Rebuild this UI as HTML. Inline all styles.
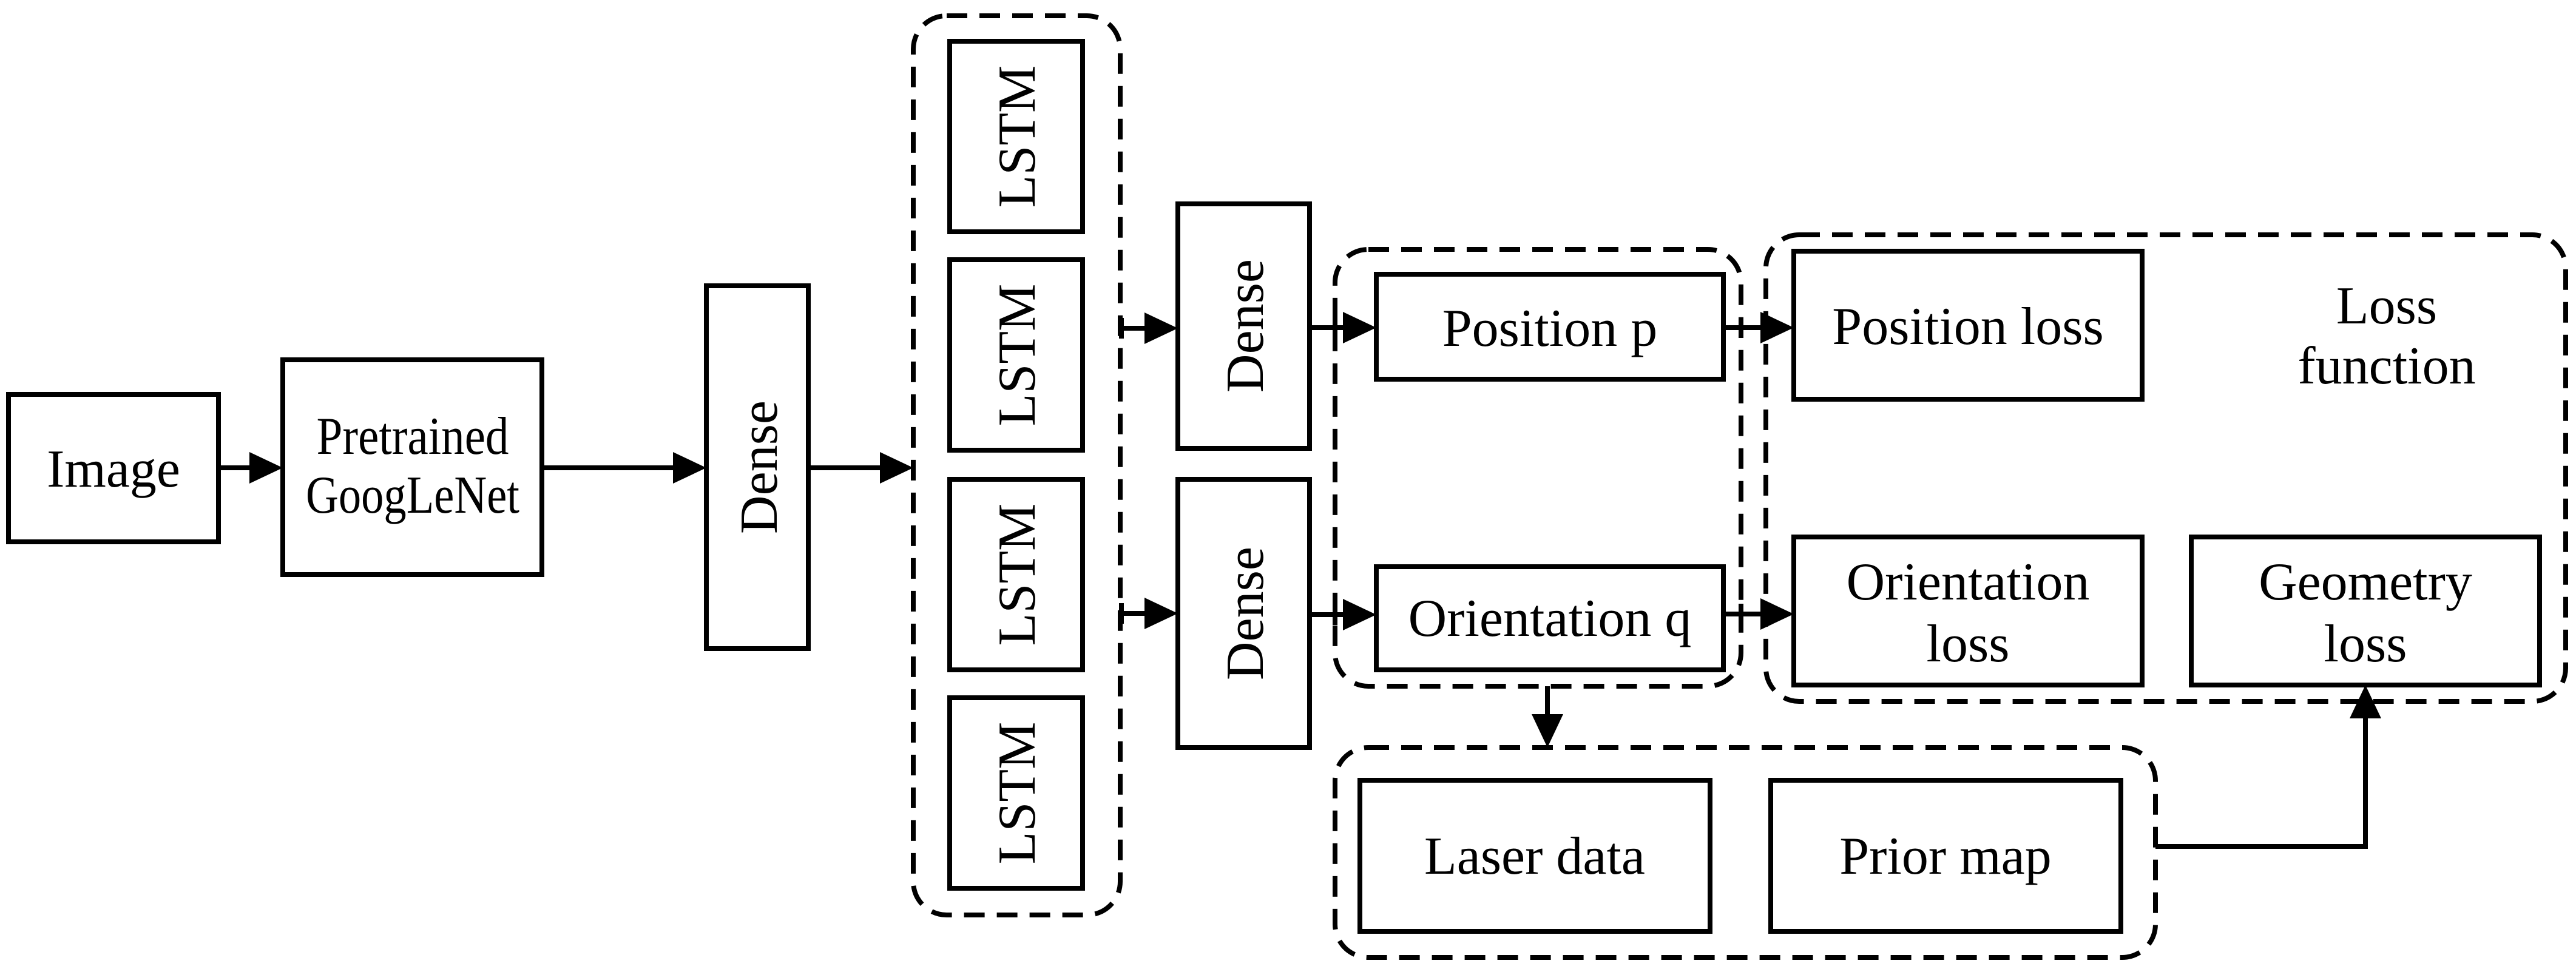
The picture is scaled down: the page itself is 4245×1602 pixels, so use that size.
<!DOCTYPE html>
<html><head><meta charset="utf-8"><style>
html,body{margin:0;padding:0;background:#fff;}
svg{display:block;}
text{font-family:"Liberation Serif",serif;font-size:88px;fill:#000;}
</style></head><body>
<svg width="4245" height="1602" viewBox="0 0 4245 1602" xmlns="http://www.w3.org/2000/svg">
<g fill="none" stroke="#000" stroke-width="8">
<g stroke-dasharray="34,20">
<rect x="1505" y="26" width="341" height="1482" rx="55"/>
<rect x="2200" y="411" width="669" height="720" rx="55"/>
<rect x="2910" y="387" width="1318" height="769" rx="55"/>
<rect x="2200" y="1232" width="1352" height="346" rx="55"/>
</g>
<rect x="14" y="650" width="346" height="243"/>
<rect x="466" y="593" width="427" height="354"/>
<rect x="1164" y="471" width="168" height="598"/>
<rect x="1565" y="68" width="219" height="314"/>
<rect x="1565" y="428" width="219" height="314"/>
<rect x="1565" y="790" width="219" height="314"/>
<rect x="1565" y="1150" width="219" height="314"/>
<rect x="1941" y="336" width="217" height="403"/>
<rect x="1941" y="790" width="217" height="442"/>
<rect x="2268" y="452" width="572" height="173"/>
<rect x="2268" y="934" width="572" height="170"/>
<rect x="2956" y="414" width="574" height="244"/>
<rect x="2956" y="885" width="574" height="244"/>
<rect x="3611" y="885" width="574" height="244"/>
<rect x="2241" y="1286" width="577" height="249"/>
<rect x="2918" y="1286" width="577" height="249"/>
<path d="M360 771H415M893 771H1113M1332 771H1454"/>
<path d="M1848 541H1890M1848 1011H1890M1848 524V558M1848 994V1028"/>
<path d="M2158 540H2217M2158 1013H2217M2200 523V557M2200 996V1030"/>
<path d="M2840 540H2905M2840 1012H2905M2869 523V557M2869 995V1029"/>
<path d="M2550 1131V1180"/>
<path d="M3552 1395H3898V1180"/>
</g>
<g fill="#000">
<polygon points="411,745 466,771 411,797"/>
<polygon points="1109,745 1164,771 1109,797"/>
<polygon points="1450,745 1505,771 1450,797"/>
<polygon points="1886,515 1941,541 1886,567"/>
<polygon points="1886,985 1941,1011 1886,1037"/>
<polygon points="2213,514 2268,540 2213,566"/>
<polygon points="2213,987 2268,1013 2213,1039"/>
<polygon points="2901,514 2956,540 2901,566"/>
<polygon points="2901,986 2956,1012 2901,1038"/>
<polygon points="2524,1177 2550,1232 2576,1177"/>
<polygon points="3872,1184 3898,1129 3924,1184"/>
</g>
<g text-anchor="middle">
<text x="187" y="802">Image</text>
<text x="680" y="748" textLength="317" lengthAdjust="spacingAndGlyphs">Pretrained</text>
<text x="680" y="845" textLength="352" lengthAdjust="spacingAndGlyphs">GoogLeNet</text>
<text transform="translate(1280,770) rotate(-90)">Dense</text>
<text transform="translate(1705,225) rotate(-90)">LSTM</text>
<text transform="translate(1705,585) rotate(-90)">LSTM</text>
<text transform="translate(1705,947) rotate(-90)">LSTM</text>
<text transform="translate(1705,1307) rotate(-90)">LSTM</text>
<text transform="translate(2081,537) rotate(-90)">Dense</text>
<text transform="translate(2081,1011) rotate(-90)">Dense</text>
<text x="2554" y="570">Position p</text>
<text x="2554" y="1048">Orientation q</text>
<text x="3243" y="567">Position loss</text>
<text x="3243" y="988">Orientation</text>
<text x="3243" y="1090">loss</text>
<text x="3898" y="988">Geometry</text>
<text x="3898" y="1090">loss</text>
<text x="3933" y="533">Loss</text>
<text x="3933" y="632">function</text>
<text x="2529" y="1440">Laser data</text>
<text x="3206" y="1440">Prior map</text>
</g>
</svg>
</body></html>
